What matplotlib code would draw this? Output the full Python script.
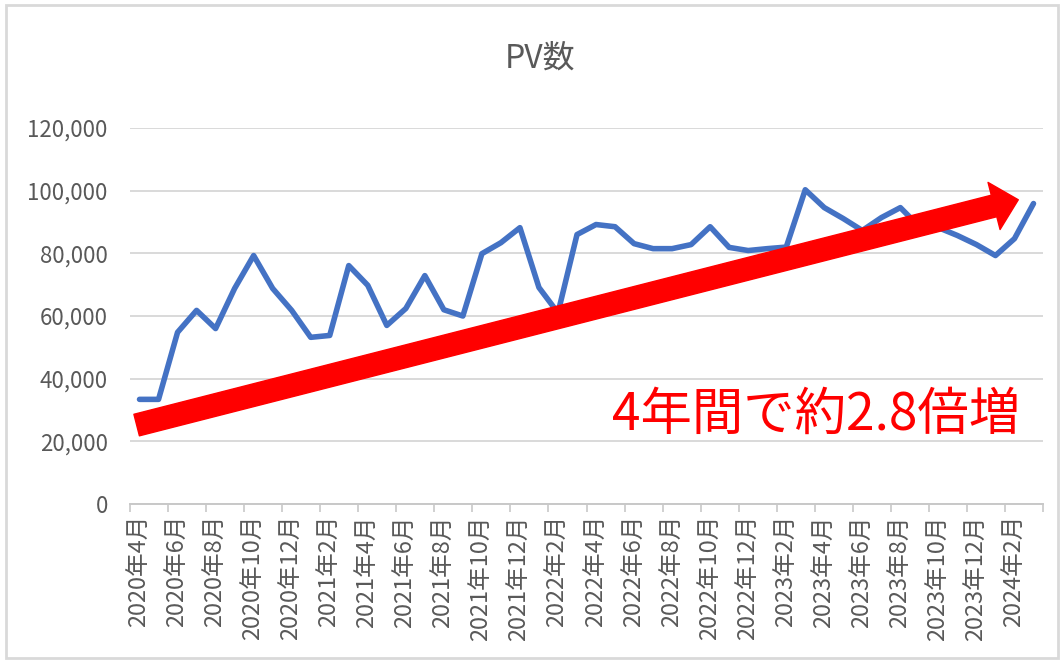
import numpy as np
import matplotlib
matplotlib.use("Agg")
import matplotlib.pyplot as plt
from matplotlib.patches import FancyArrowPatch, Rectangle

plt.rcParams['font.family'] = ['Noto Sans CJK JP', 'DejaVu Sans']

# --- data -------------------------------------------------------------
months = []
for y in range(2020, 2025):
    for m in range(1, 13):
        if (y, m) >= (2020, 4) and (y, m) <= (2024, 3):
            months.append(f"{y}年{m}月")

pv = [33400, 33400, 54800, 61800, 56000, 68800, 79300, 68800, 61800, 53200,
      53800, 76100, 69800, 57000, 62400, 72900, 62000, 60000, 79900, 83400,
      88200, 69100, 61000, 86000, 89200, 88500, 83100, 81500, 81500, 82800,
      88500, 81900, 80900, 81500, 82000, 100300, 94600, 91100, 87300, 91400,
      94600, 88500, 88200, 85700, 82800, 79300, 84700, 95900]

y_ticks = [0, 20000, 40000, 60000, 80000, 100000, 120000]

title = "PV数"
note = "4年間で約2.8倍増"

# --- figure -----------------------------------------------------------
fig = plt.figure(figsize=(10.63, 6.63), dpi=100)
ax = fig.add_axes([0.1223, 0.2398, 0.8589, 0.5671])

x = np.arange(len(months))
ax.plot(x, pv, color="#4472C4", lw=4.0, solid_joinstyle="round",
        solid_capstyle="round", zorder=3)

ax.set_xlim(-0.5, len(months) - 0.5)
ax.set_ylim(0, 120000)

ax.set_yticks(y_ticks)
ax.set_yticklabels([f"{v:,}" for v in y_ticks])
ax.set_xticks(x[::2])
ax.set_xticklabels(months[::2], rotation=90)
ax.set_xticks(np.arange(-0.5, len(months), 2), minor=True)

ax.tick_params(axis="y", length=0, pad=16, labelsize=16, labelcolor="#595959")
ax.tick_params(axis="x", which="major", length=0, pad=8, labelsize=17,
               labelcolor="#595959")
ax.tick_params(axis="x", which="minor", length=6, width=1.2, color="#c8c8c8")

ax.grid(axis="y", color="#d9d9d9", lw=1.4)
ax.set_axisbelow(True)
for s in ["top", "right", "left"]:
    ax.spines[s].set_visible(False)
ax.spines["bottom"].set_color("#c8c8c8")
ax.spines["bottom"].set_linewidth(1.4)

# red trend arrow
arrow = FancyArrowPatch((-0.15, 25200), (46.2, 97100),
                        arrowstyle="simple,head_length=18,head_width=35,tail_width=16",
                        mutation_scale=1, color="red", shrinkA=0, shrinkB=0,
                        zorder=5, clip_on=False)
ax.add_patch(arrow)

fig.text(1020 / 1063, 1 - 430 / 663, note, color="red", fontsize=37,
         ha="right", va="baseline")
fig.text(540 / 1063, 1 - 68 / 663, title, color="#595959", fontsize=23,
         ha="center", va="baseline")

# chart frame
fig.patches.append(Rectangle((0.006, 0.008), 0.989, 0.985, transform=fig.transFigure,
                             fill=False, edgecolor="#d9d9d9", lw=2))

fig.savefig("out.png", dpi=100)
